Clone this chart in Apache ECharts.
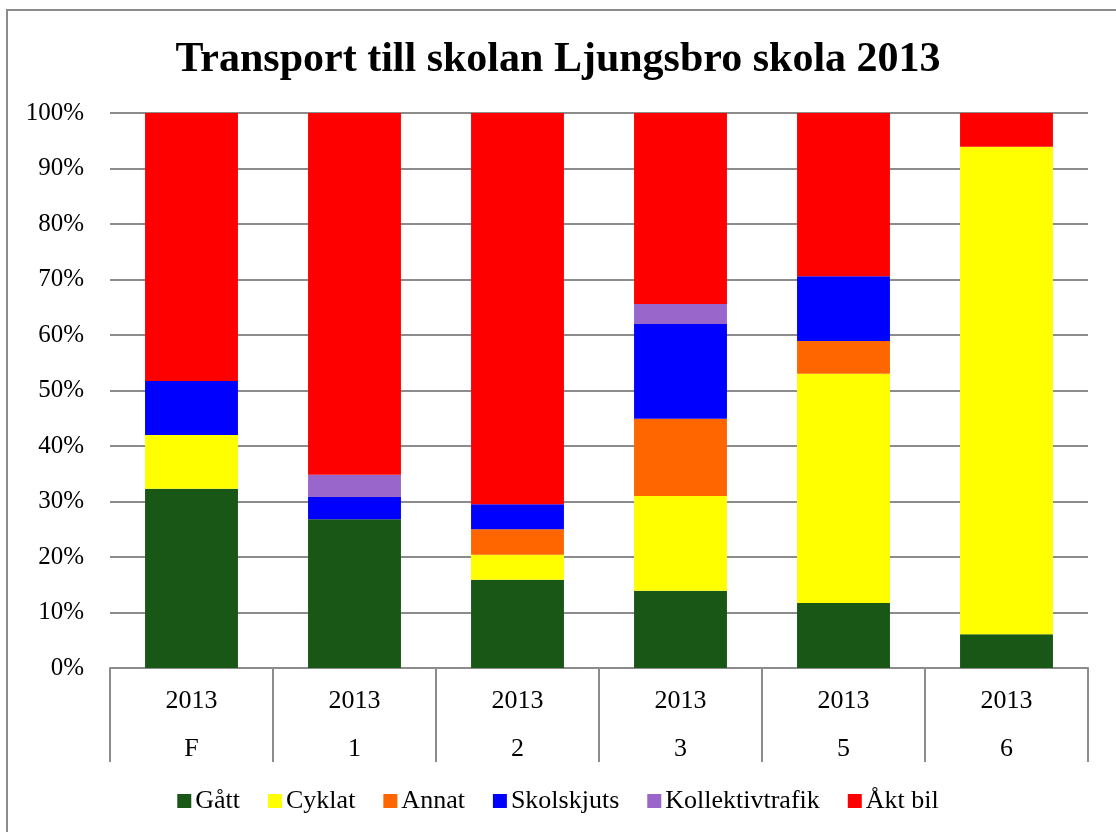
<!DOCTYPE html>
<html>
<head>
<meta charset="utf-8">
<script src="https://cdn.jsdelivr.net/npm/echarts@6/dist/echarts.min.js"></script>
<style>
  html, body { margin: 0; padding: 0; background: #fff; }
  #main { width: 1116px; height: 832px; }
</style>
</head>
<body>
<div id="main"></div>
<script>
var years = ['2013', '2013', '2013', '2013', '2013', '2013'];
var grades = ['F', '1', '2', '3', '5', '6'];

// andel i procent per klass
var gatt = [32.3, 26.8, 15.9, 13.9, 11.7, 6.1];
var cyklat = [9.7, 0, 4.5, 17.1, 41.3, 87.8];
var annat = [0, 0, 4.6, 13.9, 5.9, 0];
var skolskjuts = [9.7, 4.0, 4.5, 17.1, 11.7, 0];
var kollektiv = [0, 4.0, 0, 3.6, 0, 0];
var aktBil = [48.3, 65.2, 70.5, 34.4, 29.4, 6.1];

var font = 'Liberation Serif';

function bar(name, data, color) {
    return {
        name: name,
        type: 'bar',
        stack: 'total',
        barWidth: '57%',
        data: data,
        itemStyle: { color: color },
        emphasis: { disabled: true }
    };
}

var chart = echarts.init(document.getElementById('main'));
chart.setOption({
    animation: false,
    textStyle: { fontFamily: font, color: '#000' },
    graphic: [{
        type: 'rect',
        shape: { x: 7, y: 10, width: 1130, height: 840 },
        style: { fill: 'none', stroke: '#8c8c8c', lineWidth: 2 }
    }],
    title: {
        text: 'Transport till skolan Ljungsbro skola 2013',
        left: 'center',
        top: 34,
        textStyle: { fontFamily: font, fontSize: 42, fontWeight: 'bold', color: '#000' }
    },
    legend: {
        top: 783,
        left: 'center',
        itemWidth: 14,
        itemHeight: 14,
        itemGap: 28,
        icon: 'rect',
        textStyle: { fontFamily: font, fontSize: 26, color: '#000', padding: [0, 0, 0, -1] },
        data: ['Gått', 'Cyklat', 'Annat', 'Skolskjuts', 'Kollektivtrafik', 'Åkt bil']
    },
    grid: { left: 110, right: 28, top: 113, bottom: 164 },
    xAxis: {
        type: 'category',
        data: grades,
        axisLine: { lineStyle: { color: '#8c8c8c', width: 2 } },
        axisTick: { show: true, length: 94, lineStyle: { color: '#8c8c8c', width: 2 } },
        axisLabel: {
            margin: 9,
            fontFamily: font,
            fontSize: 26,
            lineHeight: 48,
            color: '#000',
            formatter: function (v, i) { return years[i] + '\n' + v; }
        }
    },
    yAxis: {
        type: 'value',
        min: 0,
        max: 100,
        interval: 10,
        axisLine: { show: false },
        axisTick: { show: false },
        splitLine: { lineStyle: { color: '#8c8c8c', width: 2 } },
        axisLabel: {
            margin: 26,
            fontFamily: font,
            fontSize: 25,
            color: '#000',
            formatter: '{value}%'
        }
    },
    series: [
        bar('Gått', gatt, '#185715'),
        bar('Cyklat', cyklat, '#ffff00'),
        bar('Annat', annat, '#ff6600'),
        bar('Skolskjuts', skolskjuts, '#0000ff'),
        bar('Kollektivtrafik', kollektiv, '#9966cc'),
        bar('Åkt bil', aktBil, '#ff0000')
    ]
});
</script>
</body>
</html>
